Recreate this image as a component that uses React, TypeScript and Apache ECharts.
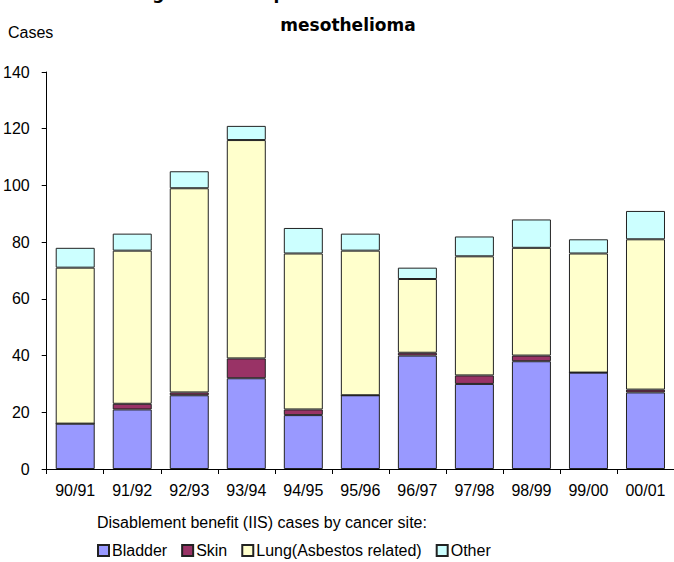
import React, { useEffect, useRef } from "react";
import * as echarts from "echarts";

const categories = ["90/91", "91/92", "92/93", "93/94", "94/95", "95/96", "96/97", "97/98", "98/99", "99/00", "00/01"];
const bladder = [16, 21, 26, 32, 19, 26, 40, 30, 38, 34, 27];
const skin = [0, 2, 1, 7, 2, 0, 1, 3, 2, 0, 1];
const lung = [55, 54, 72, 77, 55, 51, 26, 42, 38, 42, 53];
const other = [7, 6, 6, 5, 9, 6, 4, 7, 10, 5, 10];
const yTicks = { min: 0, max: 140, interval: 20 };
const titleLine1 = "Figure 5: Occupational cancers other than";
const titleLine2 = "mesothelioma";
const yName = "Cases";
const xName = "Disablement benefit (IIS) cases by cancer site:";

const FONT = "'Liberation Sans', Arial, sans-serif";

export default function App() {
  const ref = useRef<HTMLDivElement>(null);
  useEffect(() => {
    document.body.style.margin = "0";
    const chart = echarts.init(ref.current!, null, { renderer: "svg" });
    const border = { borderColor: "#222", borderWidth: 1 };
    const mk = (name: string, data: number[], color: string) => ({
      name,
      type: "bar",
      stack: "total",
      data,
      barWidth: 39,
      itemStyle: { color, ...border },
    });
    chart.setOption({
      animation: false,
      textStyle: { fontFamily: FONT },
      graphic: [
        {
          type: "text",
          left: "center",
          top: -16,
          style: { text: titleLine1, font: "bold 17px 'DejaVu Sans', sans-serif", fill: "#000" },
        },
        {
          type: "text",
          x: 348,
          y: 25,
          style: {
            text: titleLine2,
            font: "bold 17px 'DejaVu Sans', sans-serif",
            fill: "#000",
            align: "center",
            verticalAlign: "middle",
          },
        },
        {
          type: "text",
          x: 8,
          y: 32,
          style: { text: yName, font: `16px ${FONT}`, fill: "#000", verticalAlign: "middle" },
        },
        {
          type: "text",
          x: 97,
          y: 522,
          style: { text: xName, font: `16px ${FONT}`, fill: "#000", verticalAlign: "middle" },
        },
      ],
      legend: {
        left: 97,
        top: 542,
        padding: 0,
        itemWidth: 11,
        itemHeight: 11,
        itemGap: 14,
        icon: "rect",
        textStyle: { fontSize: 16, lineHeight: 17, color: "#000", fontFamily: FONT, padding: [0, 0, 0, -2] },
        data: ["Bladder", "Skin", "Lung(Asbestos related)", "Other"],
      },
      grid: { left: 46, right: 0, top: 72, bottom: 93, containLabel: false },
      xAxis: {
        type: "category",
        data: categories,
        axisLine: { lineStyle: { color: "#000", width: 1 } },
        axisTick: { show: true, length: 5, alignWithLabel: false, lineStyle: { color: "#000" } },
        axisLabel: { color: "#000", fontSize: 16, margin: 13, interval: 0, fontFamily: FONT },
      },
      yAxis: {
        type: "value",
        min: yTicks.min,
        max: yTicks.max,
        interval: yTicks.interval,
        splitLine: { show: false },
        axisLine: { show: true, lineStyle: { color: "#000", width: 1 } },
        axisTick: { show: true, length: 5, lineStyle: { color: "#000" } },
        axisLabel: { color: "#000", fontSize: 16, margin: 17, fontFamily: FONT },
      },
      series: [
        mk("Bladder", bladder, "#9999FF"),
        mk("Skin", skin, "#993366"),
        mk("Lung(Asbestos related)", lung, "#FFFFCC"),
        mk("Other", other, "#CCFFFF"),
      ],
    });
    return () => chart.dispose();
  }, []);
  return <div ref={ref} style={{ width: 674, height: 562 }} />;
}
